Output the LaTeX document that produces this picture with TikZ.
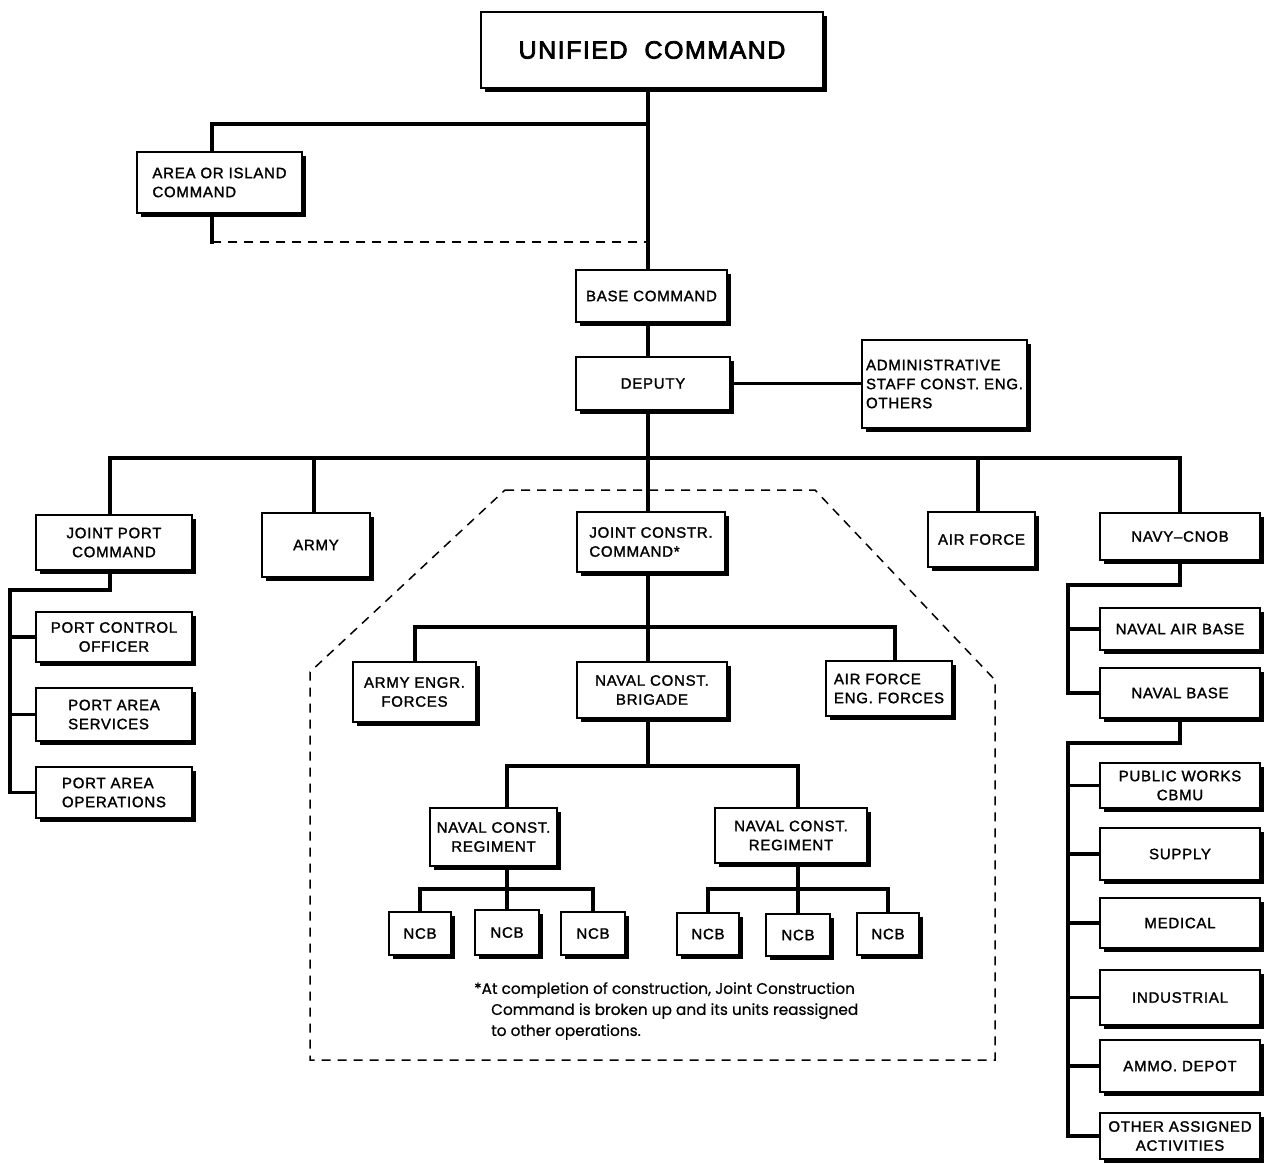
\documentclass[tikz,border=0pt]{standalone}
\usepackage{fontspec}
\usetikzlibrary{calc}
\newfontfamily\labfont[LetterSpace=5, FakeBold=1.6]{Liberation Sans}
\newfontfamily\titlefont[LetterSpace=6, FakeBold=3]{Liberation Sans}
\newfontfamily\notefont[FakeBold=0.6]{Poppins}

\tikzset{
  conn/.style={line width=3.2pt, line cap=rect},
  dashline/.style={line width=1.5pt, dash pattern=on 9pt off 7pt},
  obox/.style={draw, line width=1.3pt, fill=white, inner sep=0pt, align=center,
    font=\labfont\fontsize{15}{19}\selectfont},
  boxshadow/.style={line width=3pt},
}

% box with a heavy right/bottom shadow edge:
% \obox[options]{name}{x1}{y1}{x2}{y2}{text}
\newcommand\obox[7][]{%
  \node[obox, minimum width={#5-#3}, minimum height={#6-#4}, #1] (#2)
    at ({(#3+#5)/2},{(#4+#6)/2}) {#7};
  \draw[boxshadow] ([shift={(2.2,5)}]#2.north east) |- ([shift={(5,2.2)}]#2.south west);
}

\begin{document}
\begin{tikzpicture}[x=1pt,y=-1pt]
\useasboundingbox[fill=white] (0,0) rectangle (1265,1163);

% reference columns and rows of the connector grid
\coordinate (xT) at (648,0);
\coordinate (xI) at (212,0);
\coordinate (xJ) at (110,0);
\coordinate (xA) at (314,0);
\coordinate (xF) at (978,0);
\coordinate (xN) at (1180,0);
\coordinate (xL) at (10,0);
\coordinate (xR) at (1068,0);
\coordinate (xE) at (415,0);
\coordinate (xG) at (895,0);
\coordinate (xR1) at (507,0);
\coordinate (xR2) at (798,0);
\coordinate (yI) at (0,124);
\coordinate (yD) at (0,242);
\coordinate (yB) at (0,458);
\coordinate (yP) at (0,590);
\coordinate (yN1) at (0,585);
\coordinate (yN2) at (0,743);
\coordinate (yC) at (0,627);
\coordinate (yR) at (0,766);
\coordinate (yNb) at (0,889);

% dashed outline of the joint construction group
\coordinate (p1) at (505,490);
\coordinate (p2) at (815,490);
\coordinate (p3) at (995,680);
\coordinate (p4) at (995,1060);
\coordinate (p5) at (310,1060);
\coordinate (p6) at (310,672);
\draw[dashline] (p1) -- (p2) -- (p3) -- (p4) -- (p5) -- (p6) -- cycle;

% boxes
\obox[font=\titlefont\fontsize{25}{30}\selectfont]{uc}{481}{12}{823}{88}{UNIFIED\ \ COMMAND}
\obox[align=left]{area}{137}{152}{302}{213}{AREA OR ISLAND\\COMMAND}
\obox{base}{576}{270}{727}{322}{BASE COMMAND}
\obox{dep}{576}{357}{730}{410}{DEPUTY}
\obox[align=left]{adm}{862}{340}{1027}{428}{ADMINISTRATIVE\\STAFF CONST. ENG.\\OTHERS}
\obox{jpc}{36}{515}{192}{570}{JOINT PORT\\COMMAND}
\obox{army}{262}{513}{370}{577}{ARMY}
\obox[align=left]{jcc}{577}{512}{725}{572}{JOINT CONSTR.\\COMMAND*}
\obox{af}{928}{512}{1035}{567}{AIR FORCE}
\obox{navy}{1100}{513}{1260}{560}{NAVY–CNOB}
\obox{pco}{36}{612}{192}{662}{PORT CONTROL\\OFFICER}
\obox[align=left]{pas}{36}{688}{192}{741}{PORT AREA\\SERVICES}
\obox[align=left]{pao}{36}{767}{192}{818}{PORT AREA\\OPERATIONS}
\obox{aef}{353}{662}{476}{722}{ARMY ENGR.\\FORCES}
\obox{brig}{577}{662}{727}{718}{NAVAL CONST.\\BRIGADE}
\obox[align=left]{afe}{826}{661}{952}{716}{AIR FORCE\\ENG. FORCES}
\obox{reg1}{430}{808}{557}{866}{NAVAL CONST.\\REGIMENT}
\obox{reg2}{715}{808}{867}{863}{NAVAL CONST.\\REGIMENT}
\obox{n1}{389}{912}{451}{955}{NCB}
\obox{n2}{475}{910}{539}{955}{NCB}
\obox{n3}{561}{912}{625}{955}{NCB}
\obox{n4}{677}{913}{739}{955}{NCB}
\obox{n5}{766}{914}{830}{956}{NCB}
\obox{n6}{857}{913}{919}{955}{NCB}
\obox{nab}{1100}{608}{1260}{650}{NAVAL AIR BASE}
\obox{nb}{1100}{668}{1260}{718}{NAVAL BASE}
\obox{pw}{1100}{763}{1260}{808}{PUBLIC WORKS\\CBMU}
\obox{sup}{1100}{828}{1260}{880}{SUPPLY}
\obox{med}{1100}{898}{1260}{948}{MEDICAL}
\obox{ind}{1100}{970}{1260}{1025}{INDUSTRIAL}
\obox{ammo}{1100}{1040}{1260}{1092}{AMMO. DEPOT}
\obox{oth}{1100}{1113}{1260}{1159}{OTHER ASSIGNED\\ACTIVITIES}

% command chain
\draw[conn] (uc.south -| xT) -- (base.north -| xT);
\draw[conn] (area.north -| xI) -- (xI |- yI) -- (xT |- yI);
\draw[conn] (area.south -| xI) -- (xI |- yD);
\draw[dashline] (xI |- yD) -- (xT |- yD);
\draw[conn] (base.south -| xT) -- (dep.north -| xT);
\draw[conn] (dep.east) -- (dep.east -| adm.west);
\draw[conn] (dep.south -| xT) -- (jcc.north -| xT);

% main branch bar
\draw[conn] (jpc.north -| xJ) -- (xJ |- yB) -- (xN |- yB) -- (navy.north -| xN);
\draw[conn] (army.north -| xA) -- (xA |- yB);
\draw[conn] (af.north -| xF) -- (xF |- yB);

% joint port command
\draw[conn] (jpc.south -| xJ) -- (xJ |- yP) -- (xL |- yP) -- (xL |- pao.west) -- (pao.west);
\draw[conn] (xL |- pco.west) -- (pco.west);
\draw[conn] (xL |- pas.west) -- (pas.west);

% navy
\draw[conn] (navy.south -| xN) -- (xN |- yN1) -- (xR |- yN1) -- (xR |- nb.west) -- (nb.west);
\draw[conn] (xR |- nab.west) -- (nab.west);
\draw[conn] (nb.south -| xN) -- (xN |- yN2) -- (xR |- yN2) -- (xR |- oth.west) -- (oth.west);
\foreach \b in {pw,sup,med,ind,ammo}
  \draw[conn] (xR |- \b.west) -- (\b.west);

% joint construction command
\draw[conn] (jcc.south -| xT) -- (brig.north -| xT);
\draw[conn] (aef.north -| xE) -- (xE |- yC) -- (xG |- yC) -- (afe.north -| xG);
\draw[conn] (brig.south -| xT) -- (xT |- yR);
\draw[conn] (reg1.north -| xR1) -- (xR1 |- yR) -- (xR2 |- yR) -- (reg2.north -| xR2);
\draw[conn] (reg1.south -| xR1) -- (n2.north -| xR1);
\draw[conn] (n1.north) -- (n1.north |- yNb) -- (n3.north |- yNb) -- (n3.north);
\draw[conn] (reg2.south -| xR2) -- (n5.north -| xR2);
\draw[conn] (n4.north) -- (n4.north |- yNb) -- (n6.north |- yNb) -- (n6.north);

% footnote
\node[anchor=north west, align=left, inner sep=0pt,
      font=\notefont\fontsize{15.3}{21}\selectfont] (note) at (474,982)
  {*At completion of construction, Joint Construction\\
   \hspace*{17pt}Command is broken up and its units reassigned\\
   \hspace*{17pt}to other operations.};
\end{tikzpicture}
\end{document}
